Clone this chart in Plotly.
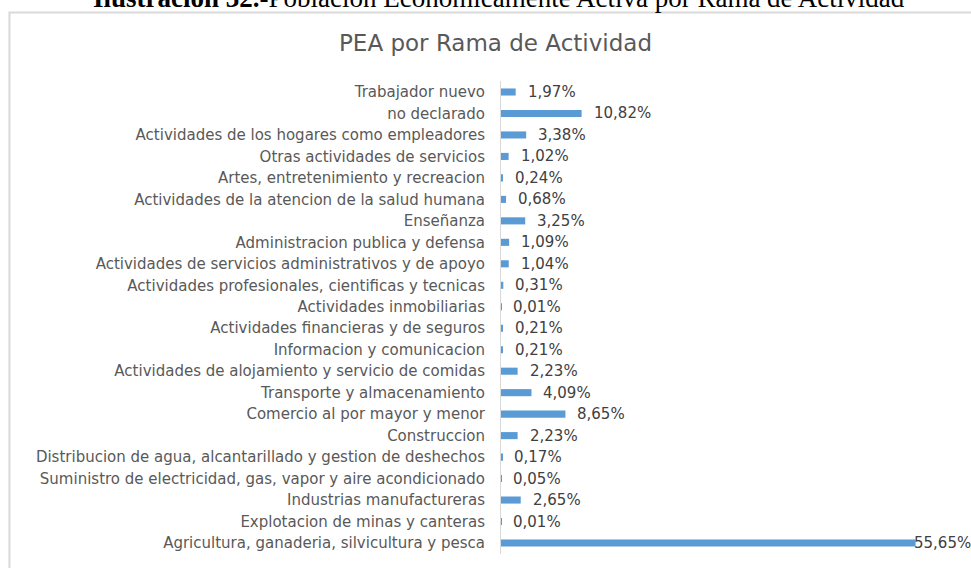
import plotly.graph_objects as go

categories = [
    "Agricultura, ganaderia, silvicultura y pesca",
    "Explotacion de minas y canteras",
    "Industrias manufactureras",
    "Suministro de electricidad, gas, vapor y aire acondicionado",
    "Distribucion de agua, alcantarillado y gestion de deshechos",
    "Construccion",
    "Comercio al por mayor y menor",
    "Transporte y almacenamiento",
    "Actividades de alojamiento y servicio de comidas",
    "Informacion y comunicacion",
    "Actividades financieras y de seguros",
    "Actividades inmobiliarias",
    "Actividades profesionales, cientificas y tecnicas",
    "Actividades de servicios administrativos y de apoyo",
    "Administracion publica y defensa",
    "Enseñanza",
    "Actividades de la atencion de la salud humana",
    "Artes, entretenimiento y recreacion",
    "Otras actividades de servicios",
    "Actividades de los hogares como empleadores",
    "no declarado",
    "Trabajador nuevo",
]
values = [55.65, 0.01, 2.65, 0.05, 0.17, 2.23, 8.65, 4.09, 2.23, 0.21, 0.21,
          0.01, 0.31, 1.04, 1.09, 3.25, 0.68, 0.24, 1.02, 3.38, 10.82, 1.97]
value_labels = [f"{v:.2f}".replace(".", ",") + "%" for v in values]

W, H = 971, 568
ML, MR, MT, MB = 501, 22.6, 80.7, 13.7
XMAX = 60
FONT = "DejaVu Sans"

fig = go.Figure(go.Bar(
    x=values, y=categories, orientation="h",
    marker=dict(color="#5B9BD5", line=dict(width=0)),
    width=0.33,
    hoverinfo="x+y",
))

vmax = max(values)
for c, v, t in zip(categories, values, value_labels):
    fig.add_annotation(
        x=v, y=c, xref="x", yref="y", text=t, showarrow=False,
        xanchor="left", yanchor="middle",
        xshift=-4 if v == vmax else 10,
        font=dict(family=FONT, size=15, color="#404040"),
    )

pw = W - ML - MR
ph = H - MT - MB
# chart frame (light gray border)
fig.add_shape(
    type="rect", xref="paper", yref="paper",
    x0=(9 - ML) / pw, x1=(W + 10 - ML) / pw,
    y0=-(MB + 10) / ph, y1=1 + (MT - 12) / ph,
    line=dict(color="#D9D9D9", width=2), fillcolor="rgba(0,0,0,0)",
    layer="below",
)

fig.add_annotation(
    xref="paper", yref="paper",
    x=(495 - ML) / pw, y=1 + (MT - 43) / ph,
    text="PEA por Rama de Actividad", showarrow=False,
    xanchor="center", yanchor="middle",
    font=dict(family=FONT, size=23, color="#595959"),
)
fig.add_annotation(
    xref="paper", yref="paper",
    x=(499 - ML) / pw, y=1 + (MT + 2) / ph,
    text="<b>Ilustración 32.</b>-Población Económicamente Activa por Rama de Actividad",
    showarrow=False, xanchor="center", yanchor="middle",
    font=dict(family="Liberation Serif", size=27, color="#000000"),
)

fig.update_layout(
    width=W, height=H,
    margin=dict(l=ML, r=MR, t=MT, b=MB, pad=0),
    paper_bgcolor="white", plot_bgcolor="white",
    showlegend=False,
    xaxis=dict(range=[0, XMAX], visible=False, showgrid=False, zeroline=False),
    yaxis=dict(
        type="category", categoryorder="array", categoryarray=categories,
        showgrid=False, zeroline=False,
        showline=True, linecolor="#D9D9D9", linewidth=1,
        ticks="", ticklabelstandoff=12,
        tickfont=dict(family=FONT, size=15, color="#595959"),
    ),
)

fig.write_html("out.html", config={"displayModeBar": False},
               post_script="document.body.style.margin='0';")
